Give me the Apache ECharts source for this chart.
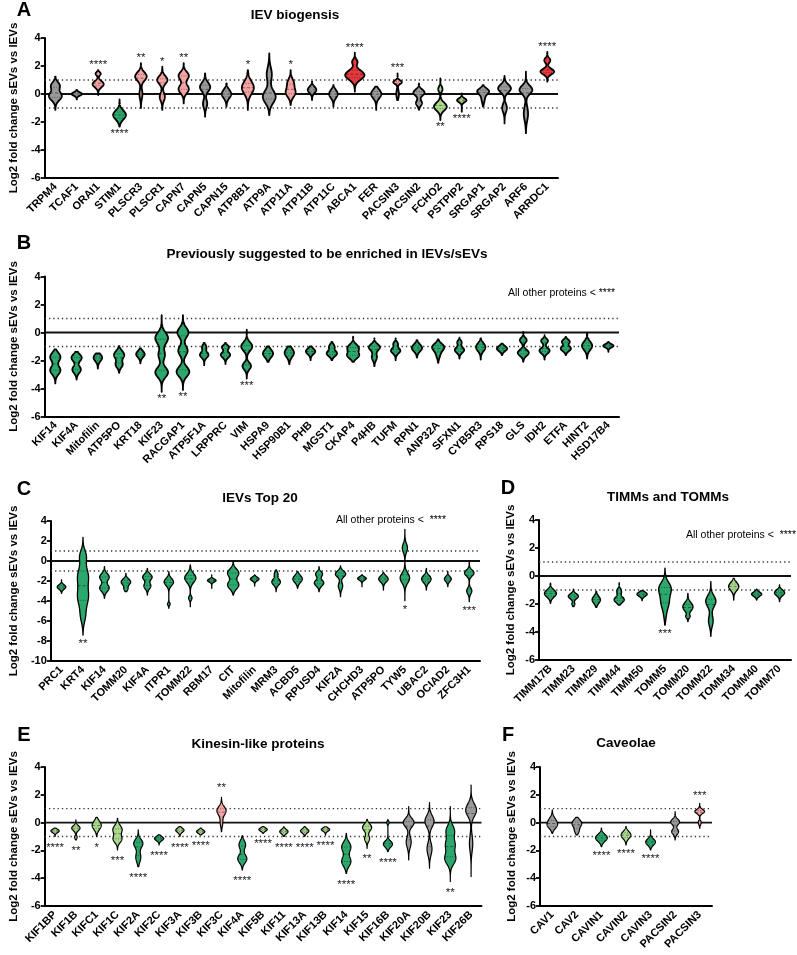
<!DOCTYPE html>
<html>
<head>
<meta charset="utf-8">
<script src="https://cdn.jsdelivr.net/npm/echarts@6/dist/echarts.min.js"></script>
<style>
html, body { margin: 0; padding: 0; background: #fff; }
#chart { width: 797px; height: 955px; }
</style>
</head>
<body>
<div id="chart"></div>
<script>
// group codes: n = not changed (grey), u = up (pink), U = strongly up (red),
// d = down (light green), D = strongly down (green)
// modes: [centre, half width (share of category band), spread]

// ---- A: IEV biogensis
const catsA = ['TRPM4', 'TCAF1', 'ORAI1', 'STIM1', 'PLSCR3', 'PLSCR1', 'CAPN7', 'CAPN5', 'CAPN15', 'ATP8B1', 'ATP9A', 'ATP11A', 'ATP11B', 'ATP11C', 'ABCA1', 'FER', 'PACSIN3', 'PACSIN2', 'FCHO2', 'PSTPIP2', 'SRGAP1', 'SRGAP2', 'ARF6', 'ARRDC1']
const groupA = ['n', 'n', 'u', 'D', 'u', 'u', 'u', 'n', 'n', 'u', 'n', 'u', 'n', 'n', 'U', 'n', 'u', 'n', 'd', 'd', 'n', 'n', 'n', 'U']
const rangeA = [[-1.14, 1.24], [-0.38, 0.29], [-0.07, 1.71], [-2.33, -0.38], [-1.0, 2.2], [-1.14, 1.95], [-0.67, 2.2], [-1.62, 1.48], [-0.9, 0.76], [-1.14, 1.71], [-1.5, 2.9], [-0.79, 1.71], [-0.43, 0.88], [-0.9, 0.64], [0.17, 2.95], [-1.14, 0.52], [-0.43, 1.48], [-1.14, 0.76], [-1.86, 1.12], [-1.26, 0.05], [-0.9, 0.64], [-2.1, 1.29], [-2.8, 1.6], [0.88, 3.0]]
const modesA = [
	[[0.6, 0.2, 0.25], [-0.15, 0.3, 0.3]], [[0, 0.24, 0.12]], [[1.45, 0.12, 0.12], [0.7, 0.26, 0.22]], [[-1.5, 0.3, 0.32]],
	[[1.25, 0.27, 0.3], [0, 0.07, 0.35]], [[1.0, 0.24, 0.28], [-0.2, 0.12, 0.3]], [[1.3, 0.24, 0.28], [0.35, 0.24, 0.3]], [[0.5, 0.24, 0.32], [-0.7, 0.1, 0.3]],
	[[0, 0.22, 0.3]], [[0.45, 0.28, 0.45]], [[1.4, 0.12, 0.5], [-0.2, 0.3, 0.45]], [[0.8, 0.14, 0.3], [0.1, 0.22, 0.32]],
	[[0.3, 0.2, 0.22]], [[0, 0.2, 0.28]], [[2.3, 0.12, 0.18], [1.35, 0.45, 0.33]], [[0, 0.24, 0.3]],
	[[0.85, 0.2, 0.13], [0, 0.06, 0.3]], [[0.1, 0.26, 0.22], [-0.65, 0.14, 0.2]], [[0.35, 0.1, 0.2], [-0.9, 0.3, 0.28]], [[-0.45, 0.22, 0.14]],
	[[0.2, 0.26, 0.2], [-0.3, 0.08, 0.3]], [[0.4, 0.3, 0.28], [-1.0, 0.11, 0.3]], [[0.3, 0.3, 0.3], [-1.4, 0.1, 0.5]], [[2.4, 0.14, 0.18], [1.6, 0.32, 0.2]]
]
const starsA = ['', '', '****', '****', '**', '*', '**', '', '', '*', '', '*', '', '', '****', '', '***', '', '**', '****', '', '', '', '****']

// ---- B: previously suggested to be enriched
const catsB = ['KIF14', 'KIF4A', 'Mitofilin', 'ATP5PO', 'KRT18', 'KIF23', 'RACGAP1', 'ATP5F1A', 'LRPPRC', 'VIM', 'HSPA9', 'HSP90B1', 'PHB', 'MGST1', 'CKAP4', 'P4HB', 'TUFM', 'RPN1', 'ANP32A', 'SFXN1', 'CYB5R3', 'RPS18', 'GLS', 'IDH2', 'ETFA', 'HINT2', 'HSD17B4']
const groupB = catsB.map(() => 'D')
const rangeB = [[-3.64, -1.21], [-3.36, -1.38], [-2.57, -1.5], [-2.88, -0.98], [-2.2, -1.14], [-4.24, 1.24], [-4.1, 1.24], [-2.33, -0.75], [-2.25, -0.75], [-3.29, 0.2], [-2.1, -1.0], [-2.26, -1.0], [-1.98, -1.0], [-1.98, -0.67], [-2.1, -0.3], [-2.4, -0.43], [-1.98, -0.43], [-1.79, -0.55], [-2.17, -0.5], [-1.86, -0.36], [-1.93, -0.43], [-1.62, -0.79], [-2.1, 0.05], [-1.93, -0.19], [-1.62, -0.31], [-1.86, -0.07], [-1.38, -0.67]]
const modesB = [
	[[-1.75, 0.24, 0.3], [-2.7, 0.24, 0.3]], [[-1.8, 0.24, 0.25], [-2.65, 0.2, 0.25]], [[-1.8, 0.2, 0.25]], [[-1.6, 0.24, 0.28], [-2.3, 0.16, 0.22]],
	[[-1.55, 0.2, 0.22]], [[-0.4, 0.3, 0.4], [-1.6, 0.15, 0.35], [-2.85, 0.3, 0.35]], [[0, 0.26, 0.35], [-1.3, 0.22, 0.35], [-2.8, 0.3, 0.35]],
	[[-1.05, 0.1, 0.18], [-1.6, 0.2, 0.2]], [[-1.05, 0.16, 0.15], [-1.6, 0.22, 0.2]], [[-1.0, 0.26, 0.3], [-2.4, 0.2, 0.25]], [[-1.5, 0.24, 0.28]],
	[[-1.45, 0.22, 0.3]], [[-1.35, 0.22, 0.2]], [[-1.0, 0.12, 0.18], [-1.5, 0.24, 0.2]], [[-1.1, 0.26, 0.25], [-1.65, 0.26, 0.22]],
	[[-1.05, 0.26, 0.22], [-1.75, 0.12, 0.25]], [[-0.8, 0.1, 0.15], [-1.3, 0.22, 0.2]], [[-1.1, 0.24, 0.25]], [[-1.05, 0.28, 0.25], [-1.6, 0.08, 0.25]],
	[[-0.7, 0.1, 0.15], [-1.25, 0.22, 0.2]], [[-1.05, 0.22, 0.28]], [[-1.15, 0.24, 0.18]], [[-0.55, 0.16, 0.18], [-1.45, 0.26, 0.22]],
	[[-0.6, 0.16, 0.16], [-1.3, 0.24, 0.2]], [[-0.65, 0.18, 0.15], [-1.15, 0.24, 0.18]], [[-0.95, 0.24, 0.3]], [[-0.95, 0.24, 0.12]]
]
const starsB = ['', '', '', '', '', '**', '**', '', '', '***', '', '', '', '', '', '', '', '', '', '', '', '', '', '', '', '', '']

// ---- C: IEVs top 20
const catsC = ['PRC1', 'KRT4', 'KIF14', 'TOMM20', 'KIF4A', 'ITPR1', 'TOMM22', 'RBM17', 'CIT', 'Mitofilin', 'MRM3', 'ACBD5', 'RPUSD4', 'KIF2A', 'CHCHD3', 'ATP5PO', 'TYW5', 'UBAC2', 'OCIAD2', 'ZFC3H1']
const groupC = catsC.map(() => 'D')
const rangeC = [[-3.23, -1.9], [-7.4, 2.37], [-3.73, -0.57], [-3.07, -1.23], [-3.4, -0.73], [-4.73, -1.07], [-4.57, -0.4], [-2.73, -1.4], [-3.4, -0.07], [-2.5, -1.4], [-3.07, -0.9], [-2.73, -1.07], [-3.07, -0.57], [-3.57, -0.5], [-2.57, -1.4], [-2.9, -1.13], [-3.97, 3.17], [-2.9, -0.73], [-2.57, -1.07], [-4.07, -0.07]]
const modesC = [
	[[-2.6, 0.2, 0.22]], [[0.5, 0.14, 0.6], [-1.5, 0.24, 0.9], [-3.6, 0.24, 0.9], [-5.5, 0.1, 0.7]], [[-1.6, 0.22, 0.35], [-2.7, 0.22, 0.35]],
	[[-2.1, 0.22, 0.3], [-2.8, 0.08, 0.2]], [[-1.6, 0.22, 0.3], [-2.5, 0.16, 0.3]], [[-2.1, 0.22, 0.35], [-4.3, 0.06, 0.15]],
	[[-1.7, 0.26, 0.45], [-3.7, 0.08, 0.2]], [[-1.95, 0.2, 0.15]], [[-1.2, 0.26, 0.4], [-2.4, 0.26, 0.4]], [[-1.8, 0.2, 0.18]],
	[[-1.3, 0.08, 0.25], [-2.1, 0.2, 0.3]], [[-1.8, 0.22, 0.35]], [[-1.3, 0.16, 0.25], [-2.2, 0.22, 0.3]], [[-1.3, 0.24, 0.3], [-2.5, 0.1, 0.35]],
	[[-1.75, 0.2, 0.17]], [[-1.8, 0.22, 0.3]], [[1.3, 0.12, 0.45], [-1.7, 0.22, 0.5]], [[-1.8, 0.22, 0.35]], [[-1.8, 0.16, 0.25]],
	[[-1.2, 0.22, 0.3], [-3.0, 0.12, 0.3]]
]
const starsC = ['', '**', '', '', '', '', '', '', '', '', '', '', '', '', '', '', '*', '', '', '***']

// ---- D: TIMMs and TOMMs
const catsD = ['TIMM17B', 'TIMM23', 'TIMM29', 'TIMM44', 'TIMM50', 'TOMM5', 'TOMM20', 'TOMM22', 'TOMM34', 'TOMM40', 'TOMM70']
const groupD = ['D', 'D', 'D', 'D', 'D', 'D', 'D', 'D', 'd', 'D', 'D']
const rangeD = [[-1.95, -0.52], [-2.19, -0.95], [-2.24, -1.1], [-2.07, -0.48], [-1.76, -1.05], [-3.5, 0.55], [-3.26, -1.24], [-4.3, -0.4], [-1.71, -0.17], [-1.71, -0.95], [-1.83, -0.64]]
const modesD = [
	[[-1.25, 0.26, 0.25]], [[-1.45, 0.22, 0.18], [-2.0, 0.06, 0.12]], [[-1.7, 0.18, 0.25]], [[-1.1, 0.1, 0.2], [-1.7, 0.22, 0.2]],
	[[-1.3, 0.22, 0.15]], [[-0.9, 0.26, 0.45], [-1.9, 0.16, 0.45], [-2.8, 0.04, 0.4]], [[-2.2, 0.22, 0.3], [-2.9, 0.08, 0.12]],
	[[-1.8, 0.22, 0.4], [-3.2, 0.1, 0.4]], [[-0.75, 0.22, 0.28]], [[-1.3, 0.22, 0.15]], [[-1.2, 0.22, 0.2]]
]
const starsD = ['', '', '', '', '', '***', '', '', '', '', '']

// ---- E: kinesin-like proteins
const catsE = ['KIF1BP', 'KIF1B', 'KIFC1', 'KIF1C', 'KIF2A', 'KIF2C', 'KIF3A', 'KIF3B', 'KIF3C', 'KIF4A', 'KIF5B', 'KIF11', 'KIF13A', 'KIF13B', 'KIF14', 'KIF15', 'KIF16B', 'KIF20A', 'KIF20B', 'KIF23', 'KIF26B']
const groupE = ['d', 'd', 'd', 'd', 'D', 'D', 'd', 'd', 'u', 'D', 'd', 'd', 'd', 'd', 'D', 'd', 'D', 'n', 'n', 'D', 'n']
const rangeE = [[-1.0, -0.4], [-1.25, 0.19], [-1.0, 0.38], [-1.97, 0.31], [-3.17, -0.53], [-1.6, -0.89], [-1.0, -0.29], [-0.89, -0.4], [-0.65, 1.82], [-3.4, -0.96], [-0.77, -0.29], [-1.0, -0.29], [-1.0, -0.29], [-0.9, -0.3], [-3.65, -0.77], [-1.85, 0.24], [-2.09, 0.24], [-2.69, 1.15], [-3.29, 1.44], [-4.24, 1.15], [-3.88, 2.7]]
const modesE = [
	[[-0.6, 0.2, 0.12]], [[-0.4, 0.2, 0.18], [-1.05, 0.06, 0.12]], [[-0.2, 0.22, 0.3]], [[-0.5, 0.22, 0.3], [-1.2, 0.2, 0.25]],
	[[-1.5, 0.22, 0.3], [-2.5, 0.12, 0.35]], [[-1.15, 0.22, 0.15]], [[-0.55, 0.2, 0.15]], [[-0.65, 0.2, 0.12]],
	[[0.85, 0.22, 0.3], [0, 0.06, 0.3]], [[-1.6, 0.16, 0.3], [-2.6, 0.22, 0.3]], [[-0.5, 0.2, 0.12]], [[-0.65, 0.2, 0.15]],
	[[-0.6, 0.2, 0.15]], [[-0.5, 0.2, 0.12]], [[-1.75, 0.22, 0.35], [-2.8, 0.22, 0.35]], [[-0.35, 0.22, 0.25], [-1.15, 0.12, 0.22]],
	[[0, 0.06, 0.1], [-1.55, 0.22, 0.22]], [[0, 0.26, 0.3], [-1.4, 0.12, 0.4]], [[0.1, 0.22, 0.4], [-1.9, 0.12, 0.45]],
	[[-0.6, 0.2, 0.4], [-1.6, 0.22, 0.4], [-2.6, 0.26, 0.4]], [[0.9, 0.26, 0.45], [-1.5, 0.08, 0.6]]
]
const starsE = ['****', '**', '*', '***', '****', '****', '****', '****', '**', '****', '****', '****', '****', '****', '****', '**', '****', '', '', '**', '']

// ---- F: caveolae
const catsF = ['CAV1', 'CAV2', 'CAVIN1', 'CAVIN2', 'CAVIN3', 'PACSIN2', 'PACSIN3']
const groupF = ['n', 'n', 'D', 'd', 'D', 'n', 'u']
const rangeF = [[-0.77, 0.91], [-0.89, 0.38], [-1.73, -0.4], [-1.6, -0.29], [-1.97, -0.53], [-1.25, 0.79], [-0.41, 1.39]]
const modesF = [
	[[0.2, 0.1, 0.25], [-0.2, 0.18, 0.25]], [[-0.05, 0.2, 0.25], [-0.6, 0.08, 0.2]], [[-1.1, 0.24, 0.25]], [[-0.9, 0.2, 0.25]],
	[[-1.4, 0.2, 0.22]], [[0.05, 0.18, 0.2], [-0.65, 0.14, 0.2]], [[0.8, 0.2, 0.15], [0, 0.06, 0.15]]
]
const starsF = ['', '', '****', '****', '****', '', '***']

const palette = { n: '#999999', u: '#f4a3a3', U: '#e8383c', d: '#aad98d', D: '#2ca86d' }
const FONT = '"Liberation Sans", Arial, Helvetica, sans-serif'
const yName = 'Log2 fold change sEVs vs lEVs'

// panel boxes (pixels)
const panels = [
	{ cats: catsA, group: groupA, range: rangeA, modes: modesA, stars: starsA, box: [35, 38, 523, 140], ymin: -6, lw: 1.8, gap: 4, nameGap: 22 },
	{ cats: catsB, group: groupB, range: rangeB, modes: modesB, stars: starsB, box: [35, 276.5, 584, 140], ymin: -6, lw: 1.8, gap: 4, nameGap: 22 },
	{ cats: catsC, group: groupC, range: rangeC, modes: modesC, stars: starsC, box: [39, 521, 441, 140], ymin: -10, lw: 1.3, gap: 6, nameGap: 25 },
	{ cats: catsD, group: groupD, range: rangeD, modes: modesD, stars: starsD, box: [539, 520, 252, 140], ymin: -6, lw: 1.4, gap: 6, nameGap: 22 },
	{ cats: catsE, group: groupE, range: rangeE, modes: modesE, stars: starsE, box: [34.5, 767, 447, 139], ymin: -6, lw: 1.2, gap: 8, nameGap: 22 },
	{ cats: catsF, group: groupF, range: rangeF, modes: modesF, stars: starsF, box: [540, 767, 172, 139], ymin: -6, lw: 1.2, gap: 6, nameGap: 22 }
]

const renderViolin = (p) => (params, api) => {
	const i = api.value(0)
	const lo = api.value(1)
	const hi = api.value(2)
	const modes = p.modes[i]
	const band = api.size([1, 0])[0]
	const dens = (v) => modes.reduce((s, m) => s + m[1] * Math.exp(-0.5 * Math.pow((v - m[0]) / m[2], 2)), 0)
	const N = 90
	const right = []
	const left = []
	const ws = []
	for (let k = 0; k <= N; k++) {
		const v = lo + (hi - lo) * k / N
		const w = dens(v) * band
		const pt = api.coord([i, v])
		right.push([pt[0] + w, pt[1]])
		left.unshift([pt[0] - w, pt[1]])
		ws.push(w)
	}
	const cum = [0]
	for (let k = 1; k <= N; k++) cum.push(cum[k - 1] + (ws[k] + ws[k - 1]) / 2)
	const total = cum[N]
	const children = [{
		type: 'polygon',
		shape: { points: right.concat(left) },
		style: { fill: palette[p.group[i]], stroke: '#000', lineWidth: p.lw, lineJoin: 'round' }
	}]
	// quartile / median lines inside the violin
	;[0.25, 0.5, 0.75].forEach((q) => {
		let k = 1
		while (k < N && cum[k] < q * total) k++
		const f = (q * total - cum[k - 1]) / Math.max(cum[k] - cum[k - 1], 1e-9)
		const v = lo + (hi - lo) * (k - 1 + f) / N
		const w = dens(v) * band
		const pt = api.coord([i, v])
		children.push({
			type: 'line',
			shape: { x1: pt[0] - w, y1: pt[1], x2: pt[0] + w, y2: pt[1] },
			style: { stroke: 'rgba(0,0,0,0.55)', lineWidth: 0.8, lineDash: q === 0.5 ? [3, 2] : [1, 1.5] }
		})
	})
	const s = p.stars[i]
	if (s) {
		const up = p.group[i] === 'u' || p.group[i] === 'U'
		const pt = api.coord([i, up ? hi : lo])
		children.push({
			type: 'text',
			x: pt[0],
			y: up ? pt[1] - p.gap - 1 : pt[1] + p.gap + 3,
			style: { text: s, fill: '#222', font: '11.5px ' + FONT, align: 'center', verticalAlign: 'middle' }
		})
	}
	return { type: 'group', children }
}

const renderRef = (params, api) => {
	const cs = params.coordSys
	const line = (v, solid) => {
		const y = api.coord([0, v])[1]
		return {
			type: 'line',
			shape: { x1: cs.x, y1: y, x2: cs.x + cs.width, y2: y },
			style: solid ? { stroke: '#111', lineWidth: 1.8 } : { stroke: '#333', lineWidth: 1.3, lineDash: [1.3, 3] }
		}
	}
	return { type: 'group', children: [line(1, false), line(-1, false), line(0, true)] }
}

const grid = []
const xAxis = []
const yAxis = []
const series = []
panels.forEach((p, gi) => {
	grid.push({ left: p.box[0], top: p.box[1], width: p.box[2], height: p.box[3] })
	xAxis.push({
		type: 'category',
		gridIndex: gi,
		data: p.cats,
		axisLine: { onZero: false, lineStyle: { color: '#000', width: 2 } },
		axisTick: { alignWithLabel: true, interval: 0, length: 5, lineStyle: { color: '#000', width: 1.8 } },
		axisLabel: { interval: 0, rotate: 45, margin: 7, color: '#000', fontWeight: 'bold', fontSize: 11, fontFamily: FONT },
		splitLine: { show: false }
	})
	yAxis.push({
		type: 'value',
		gridIndex: gi,
		min: p.ymin,
		max: 4,
		interval: 2,
		name: yName,
		nameLocation: 'middle',
		nameGap: p.nameGap,
		nameTextStyle: { color: '#000', fontWeight: 'bold', fontSize: 11.5, fontFamily: FONT },
		axisLine: { show: true, lineStyle: { color: '#000', width: 2 } },
		axisTick: { show: true, length: 4, lineStyle: { color: '#000', width: 1.8 } },
		axisLabel: { margin: 4, color: '#000', fontWeight: 'bold', fontSize: 11, fontFamily: FONT },
		splitLine: { show: false }
	})
	series.push({
		type: 'custom',
		xAxisIndex: gi,
		yAxisIndex: gi,
		z: 1,
		silent: true,
		data: [[0]],
		renderItem: renderRef
	})
	series.push({
		type: 'custom',
		xAxisIndex: gi,
		yAxisIndex: gi,
		z: 2,
		silent: true,
		clip: false,
		encode: { x: 0, y: [1, 2] },
		data: p.cats.map((c, i) => [i, p.range[i][0], p.range[i][1]]),
		renderItem: renderViolin(p)
	})
})

const txt = (text, x, y, size, weight, align) => ({
	type: 'text',
	x: x,
	y: y,
	style: { text: text, font: (weight || 'bold') + ' ' + size + 'px ' + FONT, fill: '#000', align: align || 'center', verticalAlign: 'middle' }
})

const graphic = [
	txt('A', 24, 10, 20),
	txt('IEV biogensis', 295, 15, 13.5),
	txt('B', 24, 243, 20),
	txt('Previously suggested to be enriched in lEVs/sEVs', 327, 254, 13.5),
	txt('All other proteins < ****', 508, 293, 10.5, 'normal', 'left'),
	txt('C', 24, 489, 20),
	txt('lEVs Top 20', 260, 498, 13.5),
	txt('All other proteins <  ****', 336, 520, 10.5, 'normal', 'left'),
	txt('D', 508, 488, 20),
	txt('TIMMs and TOMMs', 668, 497, 13.5),
	txt('All other proteins <  ****', 686, 535, 10.5, 'normal', 'left'),
	txt('E', 24, 735, 20),
	txt('Kinesin-like proteins', 258, 744, 13.5),
	txt('F', 508, 735, 20),
	txt('Caveolae', 626, 743, 13.5)
]

const chart = echarts.init(document.getElementById('chart'))
chart.setOption({
	animation: false,
	backgroundColor: '#fff',
	grid,
	xAxis,
	yAxis,
	series,
	graphic
})
</script>
</body>
</html>
